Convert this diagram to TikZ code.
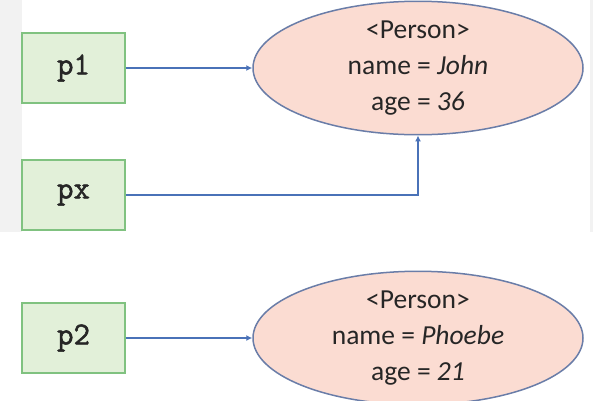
\documentclass[tikz,border=0pt]{standalone}
\usepackage{fontspec}
\setmainfont{Carlito}
\newfontfamily\varfont{Latin Modern Mono}[FakeBold=1.6]
\usetikzlibrary{shapes.geometric,arrows.meta}
\definecolor{panelgrey}{HTML}{F2F2F2}
\definecolor{varfill}{HTML}{E2F0D9}
\definecolor{varedge}{HTML}{80C280}
\definecolor{objfill}{HTML}{FBDCD2}
\definecolor{objedge}{HTML}{6A7DA8}
\definecolor{refline}{HTML}{4A72B8}
\definecolor{inktext}{HTML}{262626}
\tikzset{
  varbox/.style={draw=varedge, fill=varfill, line width=1.8pt,
    minimum width=103pt, minimum height=70pt, inner sep=0pt,
    font=\fontsize{32}{32}\selectfont\varfont, text=inktext},
  objnode/.style={ellipse, draw=objedge, fill=objfill, line width=1.5pt,
    minimum width=330pt, inner sep=0pt, align=center,
    font=\fontsize{27.5}{36}\selectfont, text=inktext},
  ref/.style={draw=refline, line width=1.8pt,
    -{Latex[length=6pt,width=6pt]}},
}
\begin{document}
\begin{tikzpicture}[x=1pt,y=-1pt]
  % canvas and grey panel edges
  \fill[white] (0,0) rectangle (593,400);
  \fill[panelgrey] (0,0) rectangle (22,232);
  \fill[panelgrey] (590,0) rectangle (593,232);
  \useasboundingbox (0,0) rectangle (593,400);

  % reference variables
  \node[varbox] (p1) at (73.5,68) {p1};
  \node[varbox] (px) at (73.5,195) {px};
  \node[varbox] (p2) at (73.5,338) {p2};

  % objects on the heap
  \node[objnode, minimum height=126pt] (john) at (418,68)
    {<Person>\\name = \textit{John}\\age = \textit{36}};
  \node[objnode, minimum height=122pt] (phoebe) at (418,338)
    {<Person>\\name = \textit{Phoebe}\\age = \textit{21}};

  % references
  \draw[ref] (p1.east) -- (john.west);
  \draw[ref] (px.east) -| (john.south);
  \draw[ref] (p2.east) -- (phoebe.west);
\end{tikzpicture}
\end{document}
